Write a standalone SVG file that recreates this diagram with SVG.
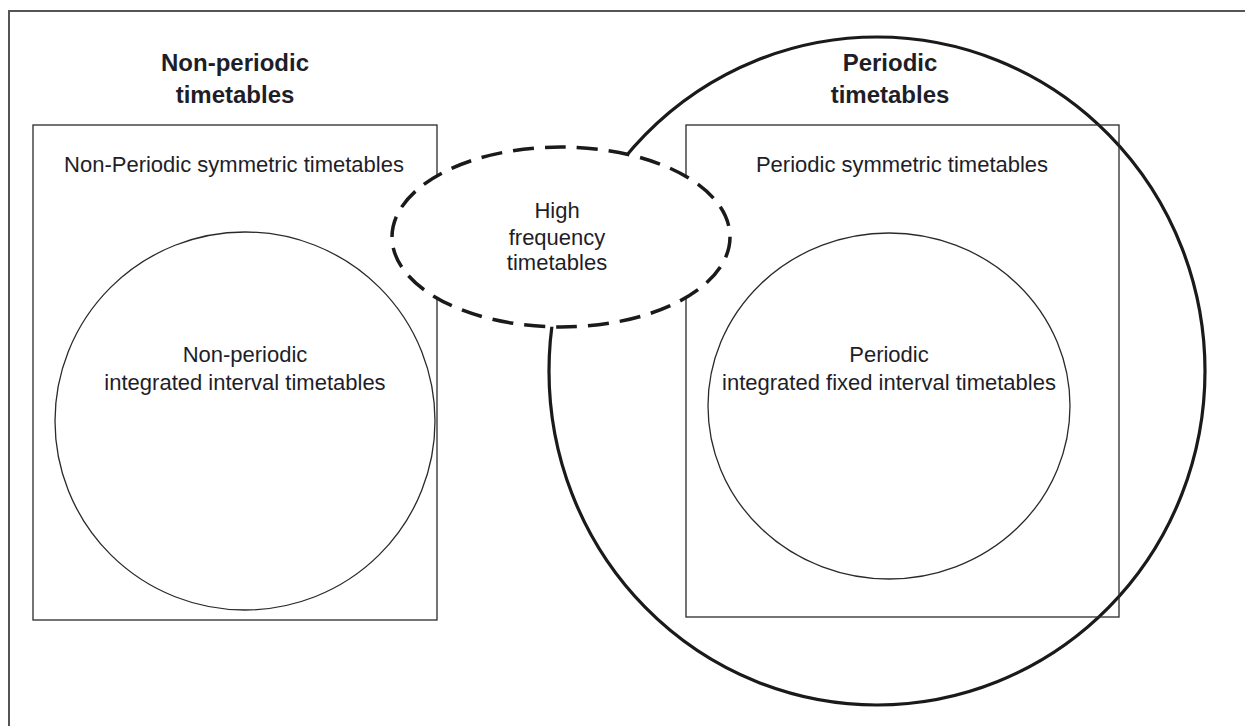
<svg xmlns="http://www.w3.org/2000/svg" width="1245" height="726" viewBox="0 0 1245 726">
<style>
.t{font-family:"Liberation Sans",Arial,sans-serif;font-size:22px;fill:#1e1e28;text-anchor:middle}
.b{font-weight:bold;font-size:24px}
.thin{fill:none;stroke:#2a2a2a;stroke-width:1.3}
</style>
<rect width="1245" height="726" fill="#fff"/>
<path d="M9,726 V11 H1245" fill="none" stroke="#555" stroke-width="2"/>
<g id="periodic-circle"><ellipse cx="877" cy="371" rx="328" ry="334" fill="none" stroke="#1a1a1a" stroke-width="3.2"/></g>
<g id="non-periodic-box">
<rect class="thin" x="33" y="125" width="404" height="495"/>
<text class="t" x="234" y="172">Non-Periodic symmetric timetables</text>
</g>
<g id="non-periodic-integrated">
<ellipse class="thin" cx="245" cy="421" rx="190" ry="189"/>
<text class="t" x="245" y="362">Non-periodic</text>
<text class="t" x="245" y="390">integrated interval timetables</text>
</g>
<g id="periodic-box">
<rect class="thin" x="686" y="125" width="433" height="492"/>
<text class="t" x="902" y="172">Periodic symmetric timetables</text>
</g>
<g id="periodic-integrated">
<ellipse class="thin" cx="889" cy="406" rx="181" ry="173"/>
<text class="t" x="889" y="362">Periodic</text>
<text class="t" x="889" y="390">integrated fixed interval timetables</text>
</g>
<g id="high-frequency">
<ellipse cx="561" cy="237" rx="169" ry="90" fill="#fff" stroke="#1a1a1a" stroke-width="3.5" stroke-dasharray="21 11"/>
<text class="t" x="557" y="218">High</text>
<text class="t" x="557" y="245">frequency</text>
<text class="t" x="557" y="270">timetables</text>
</g>
<g id="titles">
<text class="t b" x="235" y="71">Non-periodic</text>
<text class="t b" x="235" y="103">timetables</text>
<text class="t b" x="890" y="71">Periodic</text>
<text class="t b" x="890" y="103">timetables</text>
</g>
<g id="connectors"></g>
</svg>
